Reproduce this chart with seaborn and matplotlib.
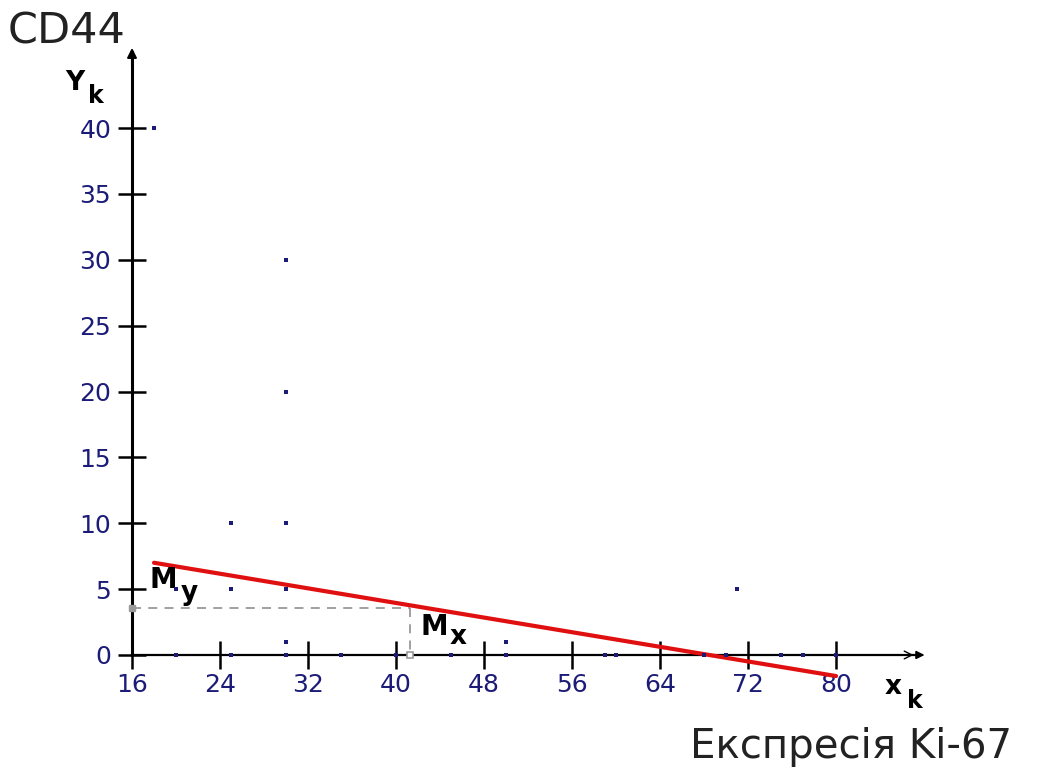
import matplotlib
matplotlib.use("Agg")
import matplotlib.pyplot as plt
import seaborn as sns
import pandas as pd

# Observations: Ki-67 expression (x) vs CD44 (y)
ki67 = [18, 20, 20, 25, 25, 25, 30, 30, 30, 30, 30, 30, 35, 40, 45, 50, 50,
        59, 60, 68, 70, 71, 75, 77, 80]
cd44 = [40, 0, 5, 0, 5, 10, 0, 1, 5, 10, 20, 30, 0, 0, 0, 0, 1,
        0, 0, 0, 0, 5, 0, 0, 0]

# Regression line end points and the means
fit_x = [18, 80]
fit_y = [7.0, -1.6]
mean_x = 41.3
mean_y = 3.6

x_ticks = [16, 24, 32, 40, 48, 56, 64, 72, 80]
y_ticks = [0, 5, 10, 15, 20, 25, 30, 35, 40]

sns.set_theme(style="white")
plt.rcParams["font.family"] = ["DejaVu Sans"]

fig = plt.figure(figsize=(10.38, 7.68), dpi=100)
ax = fig.add_axes([0, 0, 1, 1])
ax.set_xlim(4, 98.36)
ax.set_ylim(-8.58, 49.72)

navy = "#1c1c78"

points = pd.DataFrame({"x": ki67, "y": cd44})
sns.scatterplot(data=points, x="x", y="y", marker="s", s=7, color=navy,
                edgecolor=navy, linewidth=0, ax=ax, zorder=4)

fit = pd.DataFrame({"x": fit_x, "y": fit_y})
sns.lineplot(data=fit, x="x", y="y", color="#e01010", linewidth=3.0, ax=ax,
             zorder=3)

# Dashed guides to the means
gray = "#999999"
ax.plot([x_ticks[0], mean_x], [mean_y, mean_y], ls=(0, (5, 4)), color=gray,
        lw=1.3, zorder=2)
ax.plot([mean_x, mean_x], [mean_y, 0], ls=(0, (5, 4)), color=gray, lw=1.3,
        zorder=2)
ax.plot([x_ticks[0]], [mean_y], marker="s", ms=4, color=gray, zorder=5)
ax.plot([mean_x], [0], marker="s", ms=5, mfc="white", mec=gray, mew=1.2,
        zorder=5)

# Axes through the origin
for side in ["top", "right"]:
    ax.spines[side].set_visible(False)
ax.spines["left"].set_position(("data", 16))
ax.spines["bottom"].set_position(("data", 0))
ax.spines["left"].set_bounds(0, 45.8)
ax.spines["bottom"].set_bounds(16, 87.6)
ax.spines["left"].set_linewidth(2.2)
ax.spines["bottom"].set_linewidth(1.6)
ax.spines["left"].set_color("black")
ax.spines["bottom"].set_color("black")

ax.set_xticks(x_ticks)
ax.set_yticks(y_ticks)
ax.set_xticklabels([str(v) for v in x_ticks])
ax.set_yticklabels([str(v) for v in y_ticks])
ax.tick_params(axis="both", which="major", bottom=True, left=True,
               direction="inout", length=20, width=1.8, color="black",
               labelcolor=navy, labelsize=18)
ax.tick_params(axis="y", pad=5)
ax.tick_params(axis="x", pad=3)
ax.set_xlabel("")
ax.set_ylabel("")
ax.grid(False)

# Arrow heads
ax.annotate("", xy=(16, 46.3), xytext=(16, 44.5),
            arrowprops=dict(arrowstyle="-|>", lw=1.5, color="black",
                            mutation_scale=14))
ax.annotate("", xy=(88.3, 0), xytext=(86.2, 0),
            arrowprops=dict(arrowstyle="-|>", lw=1.2, color="black",
                            mutation_scale=12))
ax.annotate("", xy=(87.3, 0), xytext=(85.5, 0),
            arrowprops=dict(arrowstyle="->", lw=1.0, color="black",
                            mutation_scale=14))

# Labels
fig.text(8 / 1038, 1 - 44 / 768, "CD44", fontsize=31, color="#222222",
         ha="left", va="baseline")
fig.text(851 / 1038, 1 - 758 / 768, "Експресія Ki-67", fontsize=29,
         color="#222222", ha="center", va="baseline")

bold = dict(fontweight="bold", color="black")
fig.text(65 / 1038, 1 - 90 / 768, "Y", fontsize=19, ha="left",
         va="baseline", **bold)
fig.text(88 / 1038, 1 - 103 / 768, "k", fontsize=17, ha="left",
         va="baseline", **bold)
fig.text(885 / 1038, 1 - 694 / 768, "x", fontsize=19, ha="left",
         va="baseline", **bold)
fig.text(907 / 1038, 1 - 708 / 768, "k", fontsize=17, ha="left",
         va="baseline", **bold)

ax.text(17.6, 5.1, "M", fontsize=20, ha="left", va="baseline", **bold)
ax.text(20.4, 4.2, "y", fontsize=19, ha="left", va="baseline", **bold)
ax.text(42.2, 1.5, "M", fontsize=20, ha="left", va="baseline", **bold)
ax.text(44.9, 0.8, "x", fontsize=19, ha="left", va="baseline", **bold)

fig.savefig("out.png", dpi=100, facecolor="white")
